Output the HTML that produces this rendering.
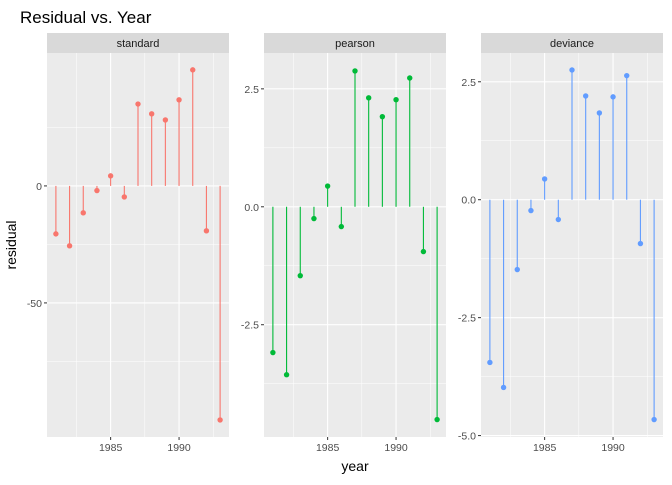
<!DOCTYPE html>
<html><head><meta charset="utf-8"><style>
body{margin:0;background:#fff;font-family:"Liberation Sans",Arial,sans-serif}
</style></head><body>
<svg id="chart" width="672" height="480" xmlns="http://www.w3.org/2000/svg">
<text x="20" y="23" font-size="17" fill="#000">Residual vs. Year</text>
<text x="16" y="245" font-size="14" fill="#000" text-anchor="middle" transform="rotate(-90 16 245)">residual</text>
<text x="355" y="471" font-size="14" fill="#000" text-anchor="middle">year</text>
</svg>
<script>
const years=[1981,1982,1983,1984,1985,1986,1987,1988,1989,1990,1991,1992,1993];
const standardVals=[-20.5,-25.6,-11.5,-2,4.3,-4.7,35,30.8,28.2,36.8,49.6,-19.2,-100];
const pearsonVals=[-3.09,-3.56,-1.46,-0.25,0.44,-0.42,2.88,2.31,1.91,2.27,2.73,-0.95,-4.51];
const devianceVals=[-3.45,-3.98,-1.48,-0.23,0.44,-0.42,2.75,2.2,1.84,2.18,2.63,-0.93,-4.66];
const xTicks=[1985,1990];
const panelNames=["standard","pearson","deviance"];
const ns="http://www.w3.org/2000/svg";
const svg=document.getElementById("chart");
function el(t,a,p){const e=document.createElementNS(ns,t);for(const k in a)e.setAttribute(k,a[k]);(p||svg).appendChild(e);return e;}
const panels=[
 {x0:47,vals:standardVals,ymin:-107.3,ymax:56.8,major:[-50,0],minor:[-75,-25,25],labels:["-50","0"],color:"#F8766D"},
 {x0:264,vals:pearsonVals,ymin:-4.88,ymax:3.26,major:[-2.5,0,2.5],minor:[-3.75,-1.25,1.25],labels:["-2.5","0.0","2.5"],color:"#00BA38"},
 {x0:481,vals:devianceVals,ymin:-5.03,ymax:3.11,major:[-5,-2.5,0,2.5],minor:[-3.75,-1.25,1.25],labels:["-5.0","-2.5","0.0","2.5"],color:"#619CFF"}
];
const W=182,yTop=53,yBot=437,xmin=1980.35,xmax=1993.65;
panels.forEach((p,i)=>{
 const xs=v=>p.x0+(v-xmin)/(xmax-xmin)*W;
 const ys=v=>yBot-(v-p.ymin)/(p.ymax-p.ymin)*(yBot-yTop);
 const g=el("g",{});
 
 
 el("rect",{x:p.x0,y:yTop,width:W,height:yBot-yTop,fill:"#EBEBEB"},g);
 const strip=el("rect",{x:p.x0,y:33,width:W,height:20,fill:"#D9D9D9"},g);
 
 
 const st=el("text",{x:p.x0+W/2,y:47,"font-size":"11","text-anchor":"middle",fill:"#1A1A1A"},g);st.textContent=panelNames[i];
 
 
 p.minor.forEach(v=>el("line",{x1:p.x0,x2:p.x0+W,y1:ys(v),y2:ys(v),stroke:"#fff","stroke-width":0.5},g));
 [1982.5,1987.5,1992.5].forEach(v=>el("line",{x1:xs(v),x2:xs(v),y1:yTop,y2:yBot,stroke:"#fff","stroke-width":0.5},g));
 p.major.forEach((v,j)=>{el("line",{x1:p.x0,x2:p.x0+W,y1:ys(v),y2:ys(v),stroke:"#fff","stroke-width":1.1},g);
  el("line",{x1:p.x0-3,x2:p.x0,y1:ys(v),y2:ys(v),stroke:"#333"},g);
  const t=el("text",{x:p.x0-5,y:ys(v)+4,"font-size":"10.5","text-anchor":"end",fill:"#4D4D4D"},g);t.textContent=p.labels[j];
  
  });
 xTicks.forEach(v=>{el("line",{x1:xs(v),x2:xs(v),y1:yTop,y2:yBot,stroke:"#fff","stroke-width":1.1},g);
  el("line",{x1:xs(v),x2:xs(v),y1:yBot,y2:yBot+3,stroke:"#333"},g);
  const t=el("text",{x:xs(v),y:yBot+14,"font-size":"10.5","text-anchor":"middle",fill:"#4D4D4D"},g);t.textContent=v;
  
  });
 years.forEach((yr,j)=>{
  const ln=el("line",{x1:xs(yr),x2:xs(yr),y1:ys(0),y2:ys(p.vals[j]),stroke:p.color,"stroke-width":1.1},g);
  
  
  const c=el("circle",{cx:xs(yr),cy:ys(p.vals[j]),r:2.7,fill:p.color},g);
  
  
 });
});
</script>
</body></html>
